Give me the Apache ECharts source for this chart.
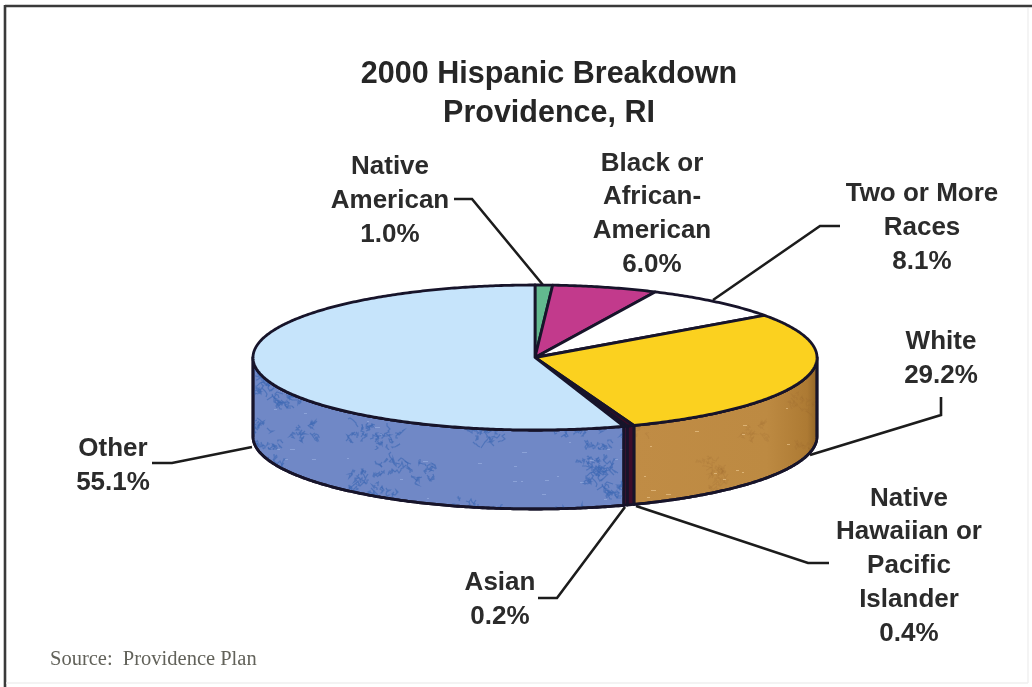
<!DOCTYPE html>
<html>
<head>
<meta charset="utf-8">
<style>
  html, body { margin: 0; padding: 0; background: #ffffff; }
  #chart { width: 1032px; height: 687px; }
</style>
<script src="https://cdn.jsdelivr.net/npm/echarts@6/dist/echarts.min.js"></script>
</head>
<body>
<div id="chart"></div>
<script>
// Race shares of the Hispanic population, clockwise from twelve o'clock.
const categories = [
  'Native\nAmerican',
  'Black or\nAfrican-\nAmerican',
  'Two or More\nRaces',
  'White',
  'Native\nHawaiian or\nPacific\nIslander',
  'Asian',
  'Other'
];
const shares = [1.0, 6.0, 8.1, 29.2, 0.4, 0.2, 55.1];

const titleLines = ['2000 Hispanic Breakdown', 'Providence, RI'];
const sourceNote = 'Source:  Providence Plan';

// Disc geometry: centre, radii and wall height, in pixels.
const disc = { cx: 535, cy: 357.5, rx: 282, ry: 72.5, depth: 79 };

const topColors = ['#62b98f', '#c23a8c', '#ffffff', '#fbd11f', '#3a0c26', '#5a0f38', '#c6e4fb'];
const wallColors = ['#3f7a5e', '#7d2259', '#d9d9d9', '#bb8740', '#3f0d2a', '#741243', '#7088c6'];
const OUTLINE = '#17142a';

// Label block centres and their leader lines, in the same order as categories.
const labelSpots = [
  { x: 390, y: 201 }, { x: 652, y: 214 }, { x: 922, y: 228 }, { x: 941, y: 359 },
  { x: 909, y: 566 }, { x: 500, y: 600 }, { x: 113, y: 466 }
];
const leaders = [
  [[454, 199], [472, 199], [543, 285]],
  null,
  [[840, 226], [820, 226], [713, 300]],
  [[941, 397], [941, 415], [810, 455]],
  [[829, 563], [808, 563], [636, 506]],
  [[538, 598], [557, 598], [625, 507]],
  [[152, 463], [172, 463], [252, 447]]
];

// Clumps of small squiggles over the wall fill give it a mottled print look.
function mottle(color, light, size, clumps, dashes) {
  const c = document.createElement('canvas');
  c.width = size; c.height = 90;
  const g = c.getContext('2d');
  let seed = 7;
  const next = function (n) { seed = (seed * 75 + 74) % 65537; return seed % n; };
  g.lineWidth = 1.2;
  for (let cluster = 0; cluster < clumps; cluster++) {
    const ox = next(size), oy = next(90);
    g.strokeStyle = color;
    for (let s = 0; s < 14; s++) {
      let px = ox + next(26) - 13, py = oy + next(18) - 9;
      g.beginPath();
      g.moveTo(px, py);
      for (let k = 0; k < 5; k++) {
        px += next(7) - 3; py += next(7) - 3;
        g.lineTo(px, py);
      }
      g.stroke();
    }
  }
  g.fillStyle = light;
  for (let d = 0; d < dashes; d++) {
    g.fillRect(next(size), next(90), 2 + next(4), 1);
  }
  return c;
}
const blueGrain = mottle('rgba(62,105,180,0.65)', 'rgba(190,210,245,0.35)', 330, 17, 26);
const brownGrain = mottle('rgba(140,90,40,0.14)', 'rgba(240,205,150,0.6)', 210, 6, 20);

const total = shares.reduce(function (a, b) { return a + b; }, 0);
const starts = [];
shares.reduce(function (run, v, i) { starts[i] = run; return run + v; }, 0);
const toAngle = function (v) { return v / total * Math.PI * 2; };
const rimPoint = function (a, drop) {
  return [disc.cx + disc.rx * Math.sin(a), disc.cy - disc.ry * Math.cos(a) + (drop || 0)];
};
function arcPoints(a0, a1, drop) {
  const n = Math.max(2, Math.ceil((a1 - a0) / 0.01));
  const pts = [];
  for (let k = 0; k <= n; k++) pts.push(rimPoint(a0 + (a1 - a0) * k / n, drop));
  return pts;
}

// Walls are visible only on the front half of the rim.
function renderWall(params) {
  const i = params.dataIndex;
  const a0 = Math.max(toAngle(starts[i]), Math.PI / 2);
  const a1 = Math.min(toAngle(starts[i] + shares[i]), Math.PI * 1.5);
  if (a1 <= a0) return null;
  const points = arcPoints(a0, a1, 0).concat(arcPoints(a0, a1, disc.depth).reverse());
  const children = [{
    type: 'polygon', shape: { points: points },
    style: { fill: wallColors[i], stroke: OUTLINE, lineWidth: 2.8, lineJoin: 'round' }
  }];
  if (i === 3) {
    children[0].style.fill = {
      type: 'linear', x: 0, y: 0, x2: 1, y2: 0,
      colorStops: [
        { offset: 0, color: '#c08c45' }, { offset: 0.72, color: '#bd8a42' },
        { offset: 0.94, color: '#ad7a33' }, { offset: 1, color: '#8e6226' }
      ]
    };
    children.push({ type: 'polygon', shape: { points: points },
      style: { fill: { image: brownGrain, repeat: 'repeat' }, stroke: null } });
  }
  if (i === 6) {
    children.push({ type: 'polygon', shape: { points: points },
      style: { fill: { image: blueGrain, repeat: 'repeat' }, stroke: null } });
  }
  if (children.length > 1) {
    children.push({ type: 'polygon', shape: { points: points },
      style: { fill: 'none', stroke: OUTLINE, lineWidth: 2.8, lineJoin: 'round' } });
  }
  return { type: 'group', children: children };
}

function renderTop(params) {
  const i = params.dataIndex;
  const a0 = toAngle(starts[i]);
  const a1 = toAngle(starts[i] + shares[i]);
  const points = [[disc.cx, disc.cy]].concat(arcPoints(a0, a1, 0));
  return {
    type: 'polygon', shape: { points: points },
    style: { fill: topColors[i], stroke: OUTLINE, lineWidth: 2.8, lineJoin: 'round' }
  };
}

function renderLabel(params) {
  const i = params.dataIndex;
  const children = [{
    type: 'text',
    style: {
      x: labelSpots[i].x, y: labelSpots[i].y,
      text: categories[i] + '\n' + shares[i].toFixed(1) + '%',
      align: 'center', verticalAlign: 'middle',
      font: 'bold 26px "Liberation Sans", Arial, sans-serif',
      lineHeight: 33.7, fill: '#2b2b2b'
    }
  }];
  if (leaders[i]) {
    children.push({
      type: 'polyline', shape: { points: leaders[i] },
      style: { fill: 'none', stroke: '#1c1c1c', lineWidth: 2.6 }
    });
  }
  return { type: 'group', children: children };
}

// Frame: heavy on the top and left, barely there on the right and bottom.
const frameLine = function (x1, y1, x2, y2, stroke, lineWidth) {
  return {
    type: 'line', silent: true, z: -1,
    shape: { x1: x1, y1: y1, x2: x2, y2: y2 },
    style: { stroke: stroke, lineWidth: lineWidth }
  };
};

const chart = echarts.init(document.getElementById('chart'), null, { renderer: 'canvas' });
chart.setOption({
  backgroundColor: '#ffffff',
  animation: false,
  title: [
    {
      text: titleLines.join('\n'),
      left: 544, top: 50, textAlign: 'center',
      textStyle: {
        fontFamily: '"Liberation Sans", Arial, sans-serif',
        fontWeight: 'bold', fontSize: 30.5, lineHeight: 39, color: '#262626'
      }
    },
    {
      text: sourceNote,
      left: 45, top: 644,
      textStyle: {
        fontFamily: '"Liberation Serif", "Times New Roman", serif',
        fontWeight: 'normal', fontSize: 20.5, color: '#62625a'
      }
    }
  ],
  graphic: [
    frameLine(5, 6, 1032, 6, '#3a3a3a', 2.6),
    frameLine(5, 5, 5, 687, '#3a3a3a', 2.6),
    frameLine(1028, 8, 1028, 683, '#f1f1f1', 1.5),
    frameLine(6, 683, 1028, 683, '#efefef', 1.5)
  ],
  series: [
    { type: 'custom', coordinateSystem: 'none', data: shares, renderItem: renderWall, silent: true, z: 2 },
    { type: 'custom', coordinateSystem: 'none', data: shares, renderItem: renderTop, silent: true, z: 3 },
    { type: 'custom', coordinateSystem: 'none', data: shares, renderItem: renderLabel, silent: true, z: 1 }
  ]
});
</script>
</body>
</html>
